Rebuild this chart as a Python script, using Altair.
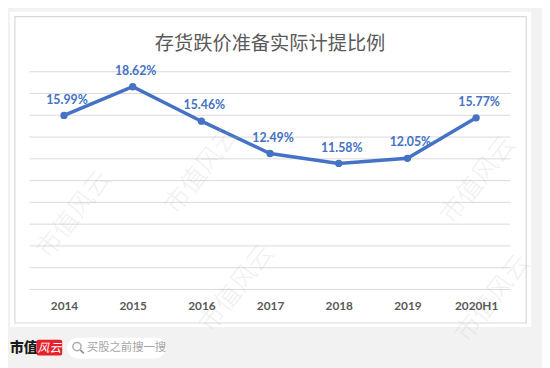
import altair as alt
import pandas as pd

years = ["2014", "2015", "2016", "2017", "2018", "2019", "2020H1"]
ratios = [15.99, 18.62, 15.46, 12.49, 11.58, 12.05, 15.77]
labels = ["15.99%", "18.62%", "15.46%", "12.49%", "11.58%", "12.05%", "15.77%"]
y_ticks = [0, 2, 4, 6, 8, 10, 12, 14, 16, 18, 20]
title_text = "存货跌价准备实际计提比例"
brand_a = "市值"
brand_b = "风云"
search_text = "买股之前搜一搜"
watermark = "市值风云"

df = pd.DataFrame({"year": years, "ratio": ratios, "label": labels})
grid_df = pd.DataFrame({"ratio": y_ticks})
one = pd.DataFrame({"k": [0]})

W, H = 488, 221
BLUE = "#4472C4"
CJK = "Noto Sans CJK SC"

yscale = alt.Scale(domain=[0, 20], nice=False, zero=True)
x_enc = alt.X(
    "year:N", sort=years, scale=alt.Scale(type="point", padding=0.5),
    axis=alt.Axis(title=None, labelAngle=0, ticks=False, domain=False, grid=False,
                  labelColor="#595959", labelFontSize=12, labelFontWeight="bold",
                  labelFont="Lato", labelPadding=11, zindex=1),
)
y_enc = alt.Y("ratio:Q", scale=yscale, axis=None)

card = alt.Chart(one).mark_rect(fill="white").encode(
    x=alt.value(-20), x2=alt.value(509), y=alt.value(-61), y2=alt.value(259))
frame = alt.Chart(one).mark_rect(fill=None, stroke="#d9d9d9", strokeWidth=1.2).encode(
    x=alt.value(-15), x2=alt.value(504), y=alt.value(-56), y2=alt.value(255))
title = alt.Chart(one).mark_text(text=title_text, font=CJK, fontSize=19.5, color="#595959",
                                 align="center", baseline="middle").encode(
    x=alt.value(244), y=alt.value(-28))

grid = alt.Chart(grid_df).mark_rule(color="#d9d9d9", strokeWidth=1).encode(y=y_enc)

base = alt.Chart(df)
line = base.mark_line(color=BLUE, strokeWidth=3.5).encode(x=x_enc, y=y_enc)
pts = base.mark_point(filled=True, color=BLUE, size=55, opacity=1).encode(x=x_enc, y=y_enc)
txt = base.mark_text(color=BLUE, font="Lato", fontSize=12.5, fontWeight="bold",
                     dy=-16, dx=3, baseline="middle").encode(x=x_enc, y=y_enc, text="label:N")

# footer
b1 = alt.Chart(one).mark_text(text=brand_a, font=CJK, fontSize=14, fontWeight=900,
                              color="#1a1a1a", align="left", baseline="middle").encode(
    x=alt.value(-20), y=alt.value(280))
redbox = alt.Chart(one).mark_rect(fill="#e8202a", cornerRadius=2).encode(
    x=alt.value(7), x2=alt.value(33), y=alt.value(272), y2=alt.value(288))
b2 = alt.Chart(one).mark_text(text=brand_b, font=CJK, fontSize=12, fontStyle="italic",
                              color="white", align="center", baseline="middle").encode(
    x=alt.value(20), y=alt.value(280))
pill = alt.Chart(one).mark_rect(fill="white", cornerRadius=10.5).encode(
    x=alt.value(38), x2=alt.value(138), y=alt.value(270), y2=alt.value(291))
mag = alt.Chart(one).mark_point(shape="circle", size=70, stroke="#8a8a8a", strokeWidth=1.5,
                                filled=False).encode(x=alt.value(48), y=alt.value(279))
handle = alt.Chart(one).mark_rule(stroke="#8a8a8a", strokeWidth=1.6).encode(
    x=alt.value(51.5), x2=alt.value(55), y=alt.value(282.5), y2=alt.value(286))
search = alt.Chart(one).mark_text(text=search_text, font=CJK, fontSize=11.5, color="#a5a5a5",
                                  align="left", baseline="middle").encode(
    x=alt.value(58), y=alt.value(280))

wm_layers = []
for px, py in [(205, 170), (485, 180), (75, 215), (240, 290), (500, 300)]:
    wm_layers.append(
        alt.Chart(one).mark_text(text=watermark, font=CJK, fontSize=26, fontWeight=300,
                                 color="#bdbdbd", opacity=0.22, angle=308,
                                 align="center", baseline="middle").encode(
            x=alt.value(px - 30), y=alt.value(py - 70))
    )

chart = alt.layer(card, frame, title, grid, line, pts, txt, b1, redbox, b2, pill, mag, handle,
                  search, *wm_layers).properties(
    width=W, height=H,
    padding={"left": 22, "top": 62, "right": 32, "bottom": 77},
    autosize="none",
).configure(background="#f2f2f2").configure_view(stroke=None)

chart.save("out.html", embed_options={"renderer": "svg", "actions": False})
